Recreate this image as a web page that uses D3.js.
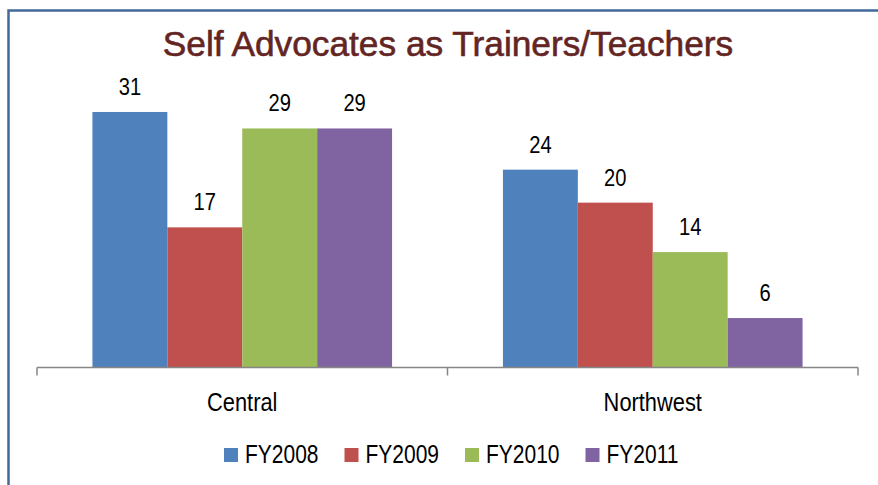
<!DOCTYPE html>
<html>
<head>
<meta charset="utf-8">
<script src="https://cdn.jsdelivr.net/npm/d3@7"></script>
<style>
  body { margin: 0; background: #fff; }
  svg { display: block; }
  text { font-family: "Liberation Sans Narrow", "Arial Narrow", "Liberation Sans", Arial, sans-serif; }
</style>
</head>
<body>
<div id="chart"></div>
<script>
const regions = ["Central", "Northwest"];
const years = ["FY2008", "FY2009", "FY2010", "FY2011"];
const colors = ["#4F81BD", "#C0504D", "#9BBB59", "#8064A2"];
const values = {
  FY2008: [31, 24],
  FY2009: [17, 20],
  FY2010: [29, 14],
  FY2011: [29, 6]
};
const title = "Self Advocates as Trainers/Teachers";

const width = 878, height = 485;
const narrow = 0.84; // no narrow font installed, squeeze the regular one

const svg = d3.select("#chart").append("svg")
    .attr("width", width)
    .attr("height", height);

// outer frame, cropped on right and bottom like the original
svg.append("rect")
    .attr("x", 8.5).attr("y", 10.5)
    .attr("width", 900).attr("height", 500)
    .attr("fill", "#fff")
    .attr("stroke", "#43699A")
    .attr("stroke-width", 2.5);

const x0 = d3.scaleBand().domain(regions).range([37, 858]);
const x1 = d3.scaleBand().domain(years).range([0, x0.bandwidth()]).paddingOuter(0.74).paddingInner(0);
const y = d3.scaleLinear().domain([0, 35]).range([367.5, 79]);
const color = d3.scaleOrdinal().domain(years).range(colors);

svg.append("text")
    .attr("transform", "translate(448,56) scale(0.98,1)")
    .attr("text-anchor", "middle")
    .attr("font-size", 36)
    .attr("fill", "#632523")
    .attr("stroke", "#632523")
    .attr("stroke-width", 0.6)
    .text(title);

const rows = regions.flatMap((r, i) => years.map(yr => ({region: r, year: yr, value: values[yr][i]})));

const g = svg.append("g");

g.selectAll("rect.bar")
    .data(rows)
    .join("rect")
    .attr("class", "bar")
    .attr("x", d => x0(d.region) + x1(d.year))
    .attr("y", d => y(d.value))
    .attr("width", x1.bandwidth())
    .attr("height", d => y(0) - y(d.value))
    .attr("fill", d => color(d.year));

g.selectAll("text.lbl")
    .data(rows)
    .join("text")
    .attr("class", "lbl")
    .attr("transform", d => `translate(${x0(d.region) + x1(d.year) + x1.bandwidth() / 2},${y(d.value) - 17}) scale(${narrow},1)`)
    .attr("text-anchor", "middle")
    .attr("font-size", 24)
    .attr("fill", "#000")
    .text(d => d.value);

// category axis
const axis = svg.append("g")
    .attr("transform", `translate(0,${y(0)})`);

axis.append("line")
    .attr("x1", 37).attr("x2", 858)
    .attr("stroke", "#868686").attr("stroke-width", 1.5);
axis.selectAll("line.tk")
    .data([37, 447.5, 858])
    .join("line")
    .attr("class", "tk")
    .attr("x1", d => d).attr("x2", d => d)
    .attr("y1", 0).attr("y2", 8)
    .attr("stroke", "#868686").attr("stroke-width", 1.5);

svg.selectAll("text.cat")
    .data(regions)
    .join("text")
    .attr("class", "cat")
    .attr("transform", d => `translate(${x0(d) + x0.bandwidth() / 2},411) scale(${narrow},1)`)
    .attr("text-anchor", "middle")
    .attr("font-size", 26)
    .attr("fill", "#000")
    .text(d => d);

// legend
const legend = svg.append("g")
    .selectAll("g")
    .data(years)
    .join("g")
    .attr("transform", (d, i) => `translate(${224 + i * 120.5},448)`);
legend.append("rect")
    .attr("width", 14).attr("height", 14)
    .attr("fill", d => color(d));
legend.append("text")
    .attr("transform", `translate(21,15) scale(${narrow},1)`)
    .attr("font-size", 25)
    .attr("fill", "#000")
    .text(d => d);
</script>
</body>
</html>
